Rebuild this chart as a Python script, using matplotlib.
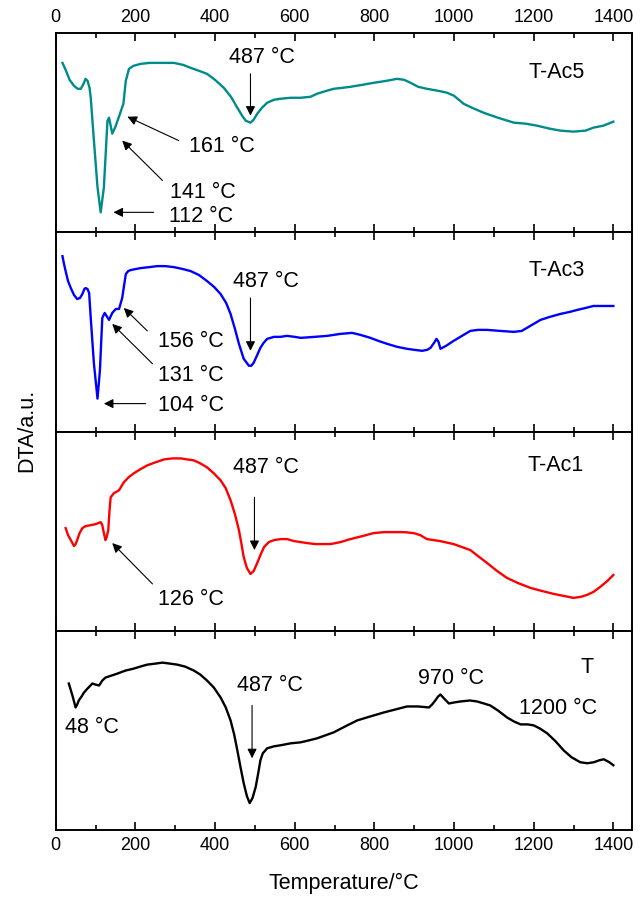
import matplotlib
matplotlib.use('Agg')
import matplotlib.pyplot as plt
from matplotlib.ticker import MultipleLocator

plt.rcParams['font.family'] = ['Liberation Sans', 'DejaVu Sans']

# DTA curves (arbitrary units, each panel 0-200)
temp_ac5 = [17, 25, 35, 46, 55, 63, 70, 75, 80, 85, 88, 96, 105, 113, 121, 130, 134, 142, 150,
            158, 170, 176, 184, 195, 213, 235, 255, 280, 297, 320, 339, 360, 380, 400, 422, 440,
            456, 468, 477, 489, 497, 506, 518, 531, 548, 564, 590, 615, 640, 656, 680, 698, 720,
            740, 770, 798, 830, 857, 875, 891, 910, 932, 960, 983, 1000, 1024, 1045, 1074, 1110,
            1150, 1180, 1208, 1240, 1267, 1300, 1330, 1350, 1375, 1400]
dta_ac5 = [170, 163, 153, 147, 144, 144, 149, 154, 152, 145, 135, 92, 45, 20, 45, 112, 115, 99,
           106, 115, 129, 152, 164, 167, 169, 170, 170, 170, 170, 168, 165, 162, 159, 153, 145,
           136, 125, 117, 112, 110, 113, 119, 125, 130, 133, 134, 135, 135, 136, 139, 142, 144,
           145, 146, 148, 150, 152, 154, 153, 150, 146, 144, 142, 140, 137, 129, 125, 120, 115,
           110, 109, 107, 104, 102, 101, 102, 105, 107, 111]

temp_ac3 = [17, 21, 25, 31, 38, 46, 54, 61, 67, 72, 75, 80, 84, 88, 96, 105, 111, 117, 123, 134,
            142, 151, 159, 167, 176, 182, 188, 200, 213, 235, 255, 275, 297, 320, 339, 360, 380,
            398, 414, 428, 439, 450, 460, 472, 485, 491, 497, 505, 514, 522, 531, 548, 564, 581,
            600, 615, 650, 682, 715, 744, 765, 790, 810, 832, 857, 882, 900, 920, 933, 941, 950,
            956, 961, 966, 980, 999, 1020, 1041, 1060, 1083, 1115, 1150, 1170, 1183, 1200, 1217,
            1240, 1267, 1290, 1309, 1330, 1350, 1375, 1400]
dta_ac3 = [176, 168, 161, 151, 144, 137, 133, 134, 138, 143, 144, 143, 139, 114, 68, 33, 61, 114,
           119, 112, 119, 123, 123, 134, 158, 161, 162, 163, 164, 165, 166, 166, 165, 163, 161,
           157, 151, 145, 138, 129, 118, 103, 88, 73, 66, 66, 69, 76, 84, 89, 93, 95, 95, 96,
           95, 94, 95, 96, 98, 99, 97, 94, 91, 88, 85, 83, 82, 81, 82, 84, 89,
           93, 90, 83, 86, 91, 96, 101, 102, 102, 101, 100, 101, 104, 108, 112,
           115, 118, 120, 122, 124, 126, 126, 126]

temp_ac1 = [25, 31, 38, 46, 50, 54, 60, 67, 75, 88, 100, 113, 117, 121, 125, 128, 132, 135, 138,
            146, 159, 171, 183, 196, 212, 230, 250, 272, 293, 314, 330, 347, 363, 380, 397, 414,
            427, 439, 450, 460, 466, 472, 480, 489, 497, 506, 514, 523, 535, 548, 565, 581, 598,
            615, 631, 652, 673, 690, 715, 740, 770, 798, 825, 849, 875, 899, 915, 932, 965, 999,
            1020, 1041, 1060, 1083, 1108, 1133, 1160, 1192, 1220, 1250, 1275, 1300, 1318, 1334,
            1350, 1367, 1385, 1400]
dta_ac1 = [103, 96, 91, 85, 87, 91, 98, 103, 105, 106, 107, 109, 106, 98, 91, 94, 101, 120, 134,
           138, 141, 149, 154, 158, 162, 166, 169, 172, 173, 173, 172, 171, 168, 164, 158, 151,
           143, 131, 117, 101, 88, 74, 63, 57, 60, 68, 76, 84, 89, 91, 92, 92, 90,
           89, 88, 87, 87, 87, 89, 92, 95, 98, 99, 99, 99, 98, 96, 92, 90, 87,
           84, 81, 75, 68, 60, 53, 48, 43, 40, 37, 35, 33, 34, 36,
           39, 44, 50, 56]

temp_t = [33, 42, 50, 54, 58, 65, 71, 80, 92, 100, 109, 117, 125, 140, 155, 175, 196, 212, 230,
          250, 268, 287, 305, 325, 347, 363, 380, 397, 414, 427, 439, 448, 456, 464, 472, 480,
          487, 494, 502, 508, 514, 520, 531, 548, 564, 590, 615, 636, 656, 677, 698, 727, 757,
          790, 824, 853, 882, 910, 937, 945, 953, 960, 966, 975, 987, 1000, 1016, 1040, 1058,
          1075, 1091, 1110, 1133, 1150, 1167, 1185, 1200, 1215, 1234, 1255, 1275, 1295, 1317,
          1335, 1351, 1365, 1376, 1390, 1400]
dta_t = [147, 135, 123, 126, 130, 134, 138, 142, 147, 146, 145, 150, 153, 155, 157, 160, 162, 164,
         166, 167, 168, 167, 166, 164, 160, 156, 150, 143, 133, 123, 110, 96, 80, 63, 47, 34,
         27, 32, 43, 56, 70, 77, 82, 84, 85, 87, 88, 90, 92, 95, 98, 104, 110,
         114, 118, 121, 124, 124, 123, 126, 130, 134, 136, 132, 127, 128, 129, 130, 129,
         127, 125, 120, 113, 109, 106, 106, 105, 102, 97, 89, 80, 73, 68,
         67, 68, 70, 71, 68, 65]

samples = ['T-Ac5', 'T-Ac3', 'T-Ac1', 'T']
colors = ['#008B8B', '#0000FF', '#FF0000', 'black']
temps = [temp_ac5, temp_ac3, temp_ac1, temp_t]
dtas = [dta_ac5, dta_ac3, dta_ac1, dta_t]
name_pos = [(1257, 160), (1257, 162), (1254, 166), (1334, 163)]

# (label, text position, arrow tail, arrow head) - arrow None if no arrow
notes = [
    [('487 °C', (517, 175), (489, 159), (489, 117)),
     ('161 °C', (416, 86), (309, 92), (180, 116)),
     ('141 °C', (369, 40), (268, 52), (167, 92)),
     ('112 °C', (366, 16), (246, 20), (145, 20))],
    [('487 °C', (527, 151), (489, 134), (489, 81)),
     ('156 °C', (339, 90), (230, 101), (171, 124)),
     ('131 °C', (339, 56), (243, 68), (142, 108)),
     ('104 °C', (339, 26), (226, 28), (121, 28))],
    [('487 °C', (527, 164), (499, 134), (499, 81)),
     ('126 °C', (339, 31), (243, 47), (142, 88))],
    [('48 °C', (92, 103), None, None),
     ('487 °C', (537, 145), (493, 125), (493, 72)),
     ('970 °C', (993, 152), None, None),
     ('1200 °C', (1261, 122), None, None)],
]

fig, axes = plt.subplots(4, 1, sharex=True, figsize=(6.43, 8.97), dpi=100)
fig.subplots_adjust(left=0.0866, right=0.9824, bottom=0.0747, top=0.9632, hspace=0)

for i, ax in enumerate(axes):
    ax.plot(temps[i], dtas[i], color=colors[i], lw=1.7)
    ax.set_xlim(0, 1446)
    ax.set_ylim(0, 200)
    ax.set_yticks([])
    ax.xaxis.set_major_locator(MultipleLocator(200))
    ax.xaxis.set_minor_locator(MultipleLocator(100))
    ax.tick_params(axis='x', which='major', direction='in', length=6, width=1.2,
                   top=True, bottom=True, labelsize=13, pad=5,
                   labeltop=(i == 0), labelbottom=(i == 3))
    ax.tick_params(axis='x', which='minor', direction='in', length=3.5, width=1.2,
                   top=True, bottom=True)
    for s in ax.spines.values():
        s.set_linewidth(1.4)
    ax.text(*name_pos[i], samples[i], fontsize=15.5, ha='center', va='center')
    for label, tpos, tail, head in notes[i]:
        ax.text(*tpos, label, fontsize=15.5, ha='center', va='center')
        if tail is not None:
            ax.annotate('', xy=head, xytext=tail,
                        arrowprops=dict(arrowstyle='-|>', color='black', lw=0.8,
                                        mutation_scale=14, shrinkA=0, shrinkB=0))

fig.text(27 / 643, 1 - 430 / 897, 'DTA/a.u.', rotation=90, fontsize=15.5,
         ha='center', va='center')
fig.text(344 / 643, 1 - 883 / 897, 'Temperature/°C', fontsize=15.5,
         ha='center', va='center')

plt.savefig('out.png', dpi=100)
plt.close()
